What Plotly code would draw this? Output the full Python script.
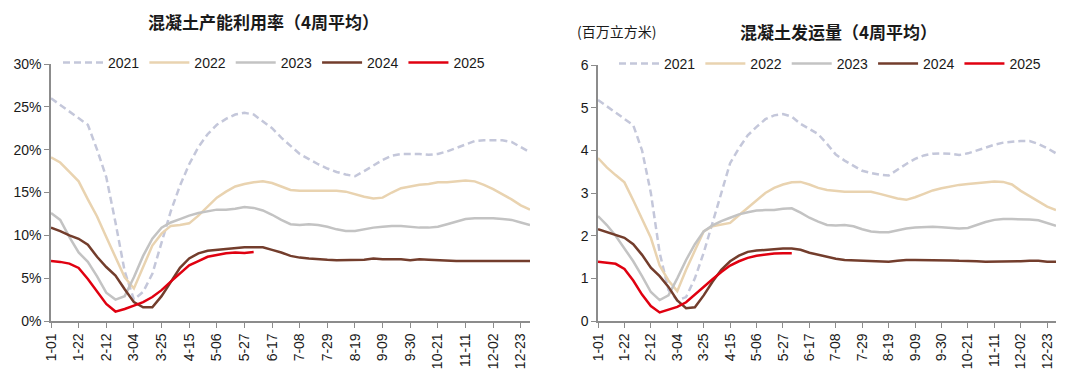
import plotly.graph_objects as go

# ---------------- data ----------------
tick_labels = ["1-01", "1-22", "2-12", "3-04", "3-25", "4-15", "5-06", "5-27", "6-17",
               "7-08", "7-29", "8-19", "9-09", "9-30", "10-21", "11-11", "12-02", "12-23"]
tick_weeks = list(range(0, 52, 3))

years = ["2021", "2022", "2023", "2024", "2025"]

# 混凝土产能利用率 (%), weekly, 4-week average
util_2021 = [26.0, 25.2, 24.4, 23.7, 22.9, 20.0, 16.8, 11.5, 5.8, 2.5, 3.4, 5.5, 9.3, 12.8,
             15.8, 18.3, 20.3, 21.8, 22.9, 23.6, 24.1, 24.3, 24.1, 23.3, 22.5, 21.4, 20.4,
             19.5, 18.9, 18.3, 17.8, 17.4, 17.1, 16.9, 17.5, 18.2, 18.8, 19.3, 19.5, 19.5,
             19.5, 19.4, 19.5, 19.8, 20.2, 20.6, 21.0, 21.1, 21.1, 21.1, 20.9, 20.3, 19.7]
util_2022 = [19.1, 18.5, 17.4, 16.3, 14.2, 12.2, 9.8, 7.4, 5.1, 3.8, 6.2, 8.8, 10.2, 11.1,
             11.2, 11.4, 12.3, 13.4, 14.4, 15.1, 15.7, 16.0, 16.2, 16.3, 16.1, 15.7, 15.3,
             15.2, 15.2, 15.2, 15.2, 15.2, 15.1, 14.8, 14.5, 14.3, 14.4, 15.0, 15.5, 15.7,
             15.9, 16.0, 16.2, 16.2, 16.3, 16.4, 16.3, 15.9, 15.4, 14.8, 14.2, 13.5, 13.0]
util_2023 = [12.6, 11.8, 9.8, 8.0, 6.9, 5.2, 3.3, 2.5, 2.9, 5.1, 7.6, 9.6, 10.9, 11.5,
             11.9, 12.3, 12.6, 12.8, 13.0, 13.0, 13.1, 13.3, 13.2, 12.9, 12.4, 11.8, 11.3,
             11.2, 11.3, 11.2, 11.0, 10.7, 10.5, 10.5, 10.7, 10.9, 11.0, 11.1, 11.1, 11.0,
             10.9, 10.9, 11.0, 11.3, 11.6, 11.9, 12.0, 12.0, 12.0, 11.9, 11.8, 11.5, 11.2]
util_2024 = [10.9, 10.5, 10.0, 9.6, 8.9, 7.5, 6.3, 5.3, 3.7, 2.2, 1.6, 1.6, 2.9, 4.6,
             6.2, 7.3, 7.9, 8.2, 8.3, 8.4, 8.5, 8.6, 8.6, 8.6, 8.3, 8.0, 7.6,
             7.4, 7.3, 7.2, 7.15, 7.1, 7.1, 7.1, 7.15, 7.3, 7.2, 7.2, 7.2, 7.1,
             7.2, 7.15, 7.1, 7.0, 7.0, 7.0, 7.0, 7.0, 7.05, 7.05, 7.05, 7.0, 7.0]
util_2025 = [7.0, 6.9, 6.7, 6.2, 4.9, 3.4, 2.0, 1.1, 1.4, 1.8, 2.2, 2.8, 3.6, 4.6,
             5.6, 6.5, 7.0, 7.5, 7.7, 7.9, 8.0, 7.95, 8.05]

# 混凝土发运量 (百万立方米), weekly, 4-week average
ship_2021 = [5.18, 5.03, 4.88, 4.74, 4.59, 4.0, 3.0, 1.6, 0.73, 0.48, 0.56, 1.0, 1.6, 2.3,
             3.0, 3.7, 4.05, 4.35, 4.55, 4.73, 4.82, 4.85, 4.79, 4.62, 4.5, 4.38, 4.15,
             3.9, 3.76, 3.63, 3.52, 3.47, 3.43, 3.41, 3.55, 3.68, 3.8, 3.88, 3.92, 3.93,
             3.92, 3.89, 3.93, 4.0, 4.07, 4.13, 4.18, 4.2, 4.22, 4.22, 4.15, 4.05, 3.93]
ship_2022 = [3.82, 3.6, 3.42, 3.25, 2.83, 2.4, 1.95, 1.3, 0.95, 0.7, 1.2, 1.65, 2.1, 2.22,
             2.26, 2.3, 2.48, 2.65, 2.82, 3.0, 3.12, 3.2, 3.25, 3.26, 3.2, 3.12, 3.07,
             3.05, 3.03, 3.03, 3.03, 3.03, 2.98, 2.93, 2.87, 2.84, 2.9, 2.98, 3.06, 3.11,
             3.15, 3.19, 3.21, 3.23, 3.25, 3.27, 3.26, 3.2, 3.05, 2.92, 2.8, 2.68, 2.6]
ship_2023 = [2.46, 2.25, 2.0, 1.7, 1.4, 1.05, 0.68, 0.49, 0.6, 1.0, 1.43, 1.8, 2.1, 2.24,
             2.34, 2.42, 2.5, 2.55, 2.59, 2.6, 2.6, 2.63, 2.64, 2.54, 2.42, 2.33, 2.25,
             2.24, 2.25, 2.22, 2.15, 2.1, 2.08, 2.08, 2.12, 2.17, 2.19, 2.2, 2.21, 2.2,
             2.18, 2.17, 2.18, 2.25, 2.32, 2.37, 2.39, 2.39, 2.39, 2.38, 2.36, 2.3, 2.23]
ship_2024 = [2.15, 2.08, 2.02, 1.95, 1.8, 1.55, 1.25, 1.05, 0.8, 0.48, 0.3, 0.32, 0.6, 0.92,
             1.2, 1.4, 1.53, 1.62, 1.65, 1.67, 1.68, 1.7, 1.7, 1.67, 1.6, 1.55, 1.5,
             1.46, 1.43, 1.42, 1.41, 1.4, 1.4, 1.39, 1.41, 1.43, 1.43, 1.43, 1.43, 1.43,
             1.42, 1.41, 1.41, 1.4, 1.39, 1.39, 1.39, 1.39, 1.4, 1.41, 1.41, 1.39, 1.39]
ship_2025 = [1.39, 1.37, 1.34, 1.22, 0.95, 0.62, 0.35, 0.2, 0.26, 0.33, 0.44, 0.62, 0.82,
             0.98, 1.15, 1.3, 1.4, 1.48, 1.53, 1.56, 1.58, 1.59, 1.59]

util_series = [util_2021, util_2022, util_2023, util_2024, util_2025]
ship_series = [ship_2021, ship_2022, ship_2023, ship_2024, ship_2025]

# ---------------- styles ----------------
colors = ["#c4c7da", "#e9d3b0", "#c3c3c3", "#733d2c", "#e00010"]
dashes = ["7px,4px", "solid", "solid", "solid", "solid"]
FONT = "Liberation Sans, Arial, sans-serif"
CJK = "Noto Sans CJK SC, sans-serif"

W, H = 1080, 384
OFF = 8  # the page body adds an 8px margin around the figure


def px(x):
    return (x - OFF) / W


def py(y):
    return 1 - (y - OFF) / H


fig = go.Figure()

for i, (yr, vals) in enumerate(zip(years, util_series)):
    fig.add_trace(go.Scatter(
        x=list(range(len(vals))), y=vals, name=yr, mode="lines",
        line=dict(color=colors[i], width=2.5, dash=dashes[i]),
        xaxis="x", yaxis="y", legend="legend"))

for i, (yr, vals) in enumerate(zip(years, ship_series)):
    fig.add_trace(go.Scatter(
        x=list(range(len(vals))), y=vals, name=yr, mode="lines",
        line=dict(color=colors[i], width=2.5, dash=dashes[i]),
        xaxis="x2", yaxis="y2", legend="legend2"))

axis_common = dict(showgrid=False, zeroline=False, showline=True, linecolor="#8c8c8c",
                   linewidth=1.5, ticks="outside", ticklen=5, tickcolor="#8c8c8c",
                   automargin=False,
                   tickfont=dict(family=FONT, size=14, color="#1a1a1a"))

x_common = dict(axis_common, range=[0, 52], tickmode="array", tickvals=tick_weeks,
                ticktext=tick_labels, tickangle=-90)

legend_common = dict(orientation="h", xanchor="left", yanchor="middle",
                     bgcolor="rgba(0,0,0,0)", itemwidth=40, tracegroupgap=0,
                     font=dict(family=FONT, size=14, color="#1a1a1a"))

fig.update_layout(
    width=W, height=H,
    margin=dict(l=0, r=0, t=0, b=0),
    paper_bgcolor="white", plot_bgcolor="white",
    xaxis=dict(x_common, domain=[px(51), px(530)], anchor="y"),
    yaxis=dict(axis_common, domain=[py(321), py(64)], range=[0, 30],
               tickmode="array", tickvals=[0, 5, 10, 15, 20, 25, 30],
               ticktext=["0%", "5%", "10%", "15%", "20%", "25%", "30%"], anchor="x"),
    xaxis2=dict(x_common, domain=[px(598), px(1056)], anchor="y2"),
    yaxis2=dict(axis_common, domain=[py(321), py(65)], range=[0, 6],
                tickmode="array", tickvals=[0, 1, 2, 3, 4, 5, 6], anchor="x2"),
    legend=dict(legend_common, x=px(58), y=py(63)),
    legend2=dict(legend_common, x=px(614), y=py(64)),
    annotations=[
        dict(text="<b>混凝土产能利用率（4周平均）</b>", x=px(263), y=1.0,
             xref="paper", yref="paper", showarrow=False, xanchor="center", yanchor="top",
             borderpad=0, font=dict(family=CJK, size=17, color="#1a1a1a")),
        dict(text="<b>混凝土发运量（4周平均）</b>", x=px(838), y=py(31),
             xref="paper", yref="paper", showarrow=False, xanchor="center", yanchor="middle",
             font=dict(family=CJK, size=17, color="#1a1a1a")),
        dict(text="(百万立方米)", x=px(575), y=py(31),
             xref="paper", yref="paper", showarrow=False, xanchor="left", yanchor="middle",
             font=dict(family=CJK, size=14, color="#1a1a1a")),
    ],
)

fig.write_html("out.html")
